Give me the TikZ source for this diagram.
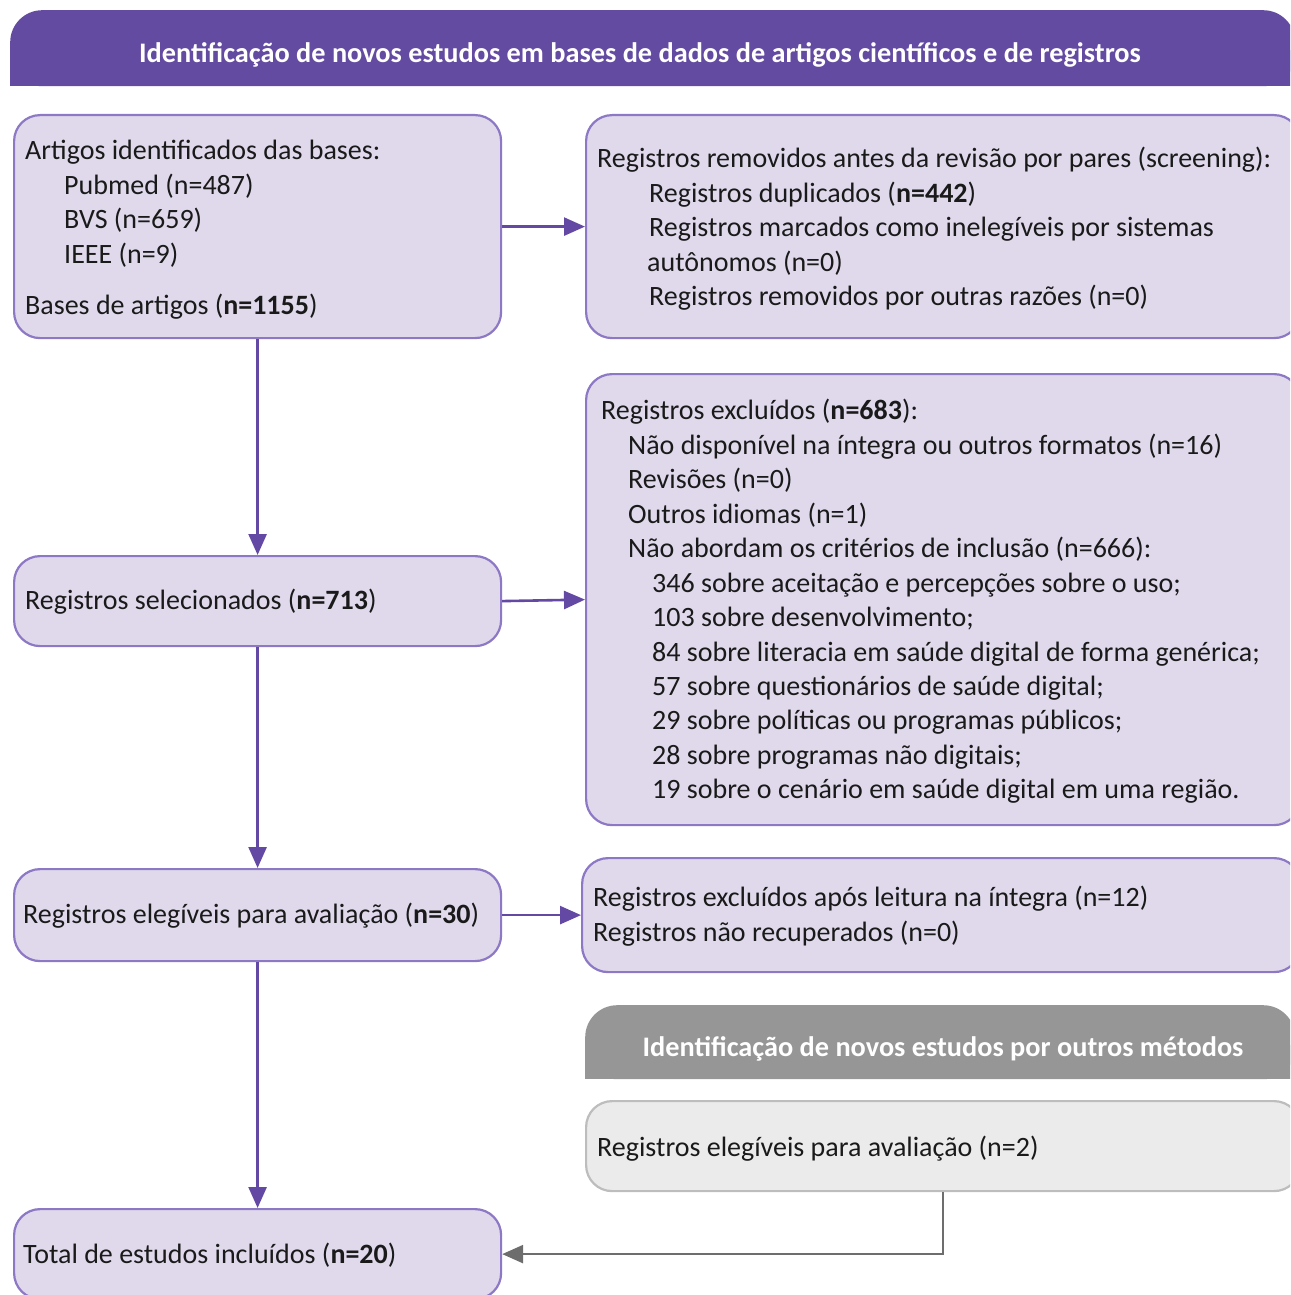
\documentclass[tikz,border=0pt]{standalone}
\usepackage{fontspec}
\setmainfont{Carlito}
\usetikzlibrary{arrows.meta}
\definecolor{hdrP}{HTML}{644BA2}
\definecolor{boxF}{HTML}{E0D9EC}
\definecolor{boxD}{HTML}{8C78C4}
\definecolor{arrP}{HTML}{6349A3}
\definecolor{hdrG}{HTML}{969696}
\definecolor{boxGF}{HTML}{EBEBEB}
\definecolor{boxGD}{HTML}{BDBDBD}
\definecolor{arrG}{HTML}{6D6D6D}
\definecolor{txt}{HTML}{1A1A1A}
\begin{document}
\begin{tikzpicture}[x=1pt,y=-1pt,
  pbox/.style={draw=boxD, fill=boxF, line width=2.2pt, rounded corners=26pt, inner sep=0pt, anchor=north west},
  gbox/.style={draw=boxGD, fill=boxGF, line width=2.2pt, rounded corners=26pt, inner sep=0pt, anchor=north west},
  hdr/.style={rounded corners=32pt, inner sep=0pt, anchor=north west},
  tx/.style={anchor=base west, inner sep=0pt, text=txt, font=\fontsize{28pt}{32pt}\selectfont},
  htx/.style={inner sep=0pt, text=white, font=\fontsize{28.3pt}{32pt}\selectfont\bfseries},
  parrow/.style={draw=arrP, line width=2.6pt, -{Triangle[length=21pt,width=18pt]}},
  garrow/.style={draw=arrG, line width=2.6pt, -{Triangle[length=21pt,width=18pt]}}]
\useasboundingbox (0,0) rectangle (1290,1295);
\clip (0,0) rectangle (1290,1295);

% purple header
\fill[hdrP] (10,50) rectangle (1295,86);
\node[hdr, fill=hdrP, minimum width=1285pt, minimum height=76pt] (H1) at (10,10) {};
\node[htx] (H1t) at (640,55) {Identificação de novos estudos em bases de dados de artigos científicos e de registros};

% boxes
\node[pbox, minimum width=487pt, minimum height=223pt] (A) at (13,114) {};
\node[pbox, minimum width=714pt, minimum height=223pt] (B) at (585,114) {};
\node[pbox, minimum width=714pt, minimum height=451pt] (C) at (585,373) {};
\node[pbox, minimum width=487pt, minimum height=90pt] (D) at (13,555) {};
\node[pbox, minimum width=487pt, minimum height=92pt] (E) at (13,868) {};
\node[pbox, minimum width=718pt, minimum height=114pt] (F) at (581,857) {};

% gray header
\fill[hdrG] (585,1045) rectangle (1295,1079);
\node[hdr, fill=hdrG, minimum width=710pt, minimum height=74pt] (H2) at (585,1005) {};
\node[htx] (H2t) at (943,1049) {Identificação de novos estudos por outros métodos};

\node[gbox, minimum width=714pt, minimum height=90pt] (G) at (585,1100) {};
\node[pbox, minimum width=487pt, minimum height=90pt] (H) at (13,1208) {};

% texts box A
\node[tx] (a1) at (25,159) {Artigos identificados das bases:};
\node[tx] (a2) at (64,194) {Pubmed (n=487)};
\node[tx] (a3) at (64,228) {BVS (n=659)};
\node[tx] (a4) at (64,263) {IEEE (n=9)};
\node[tx] (a5) at (25,314) {Bases de artigos (\textbf{n=1155})};

% texts box B
\node[tx] (b1) at (597,167) {Registros removidos antes da revisão por pares (screening):};
\node[tx] (b2) at (649,202) {Registros duplicados (\textbf{n=442})};
\node[tx] (b3) at (649,236) {Registros marcados como inelegíveis por sistemas};
\node[tx] (b4) at (647,271) {autônomos (n=0)};
\node[tx] (b5) at (649,305) {Registros removidos por outras razões (n=0)};

% texts box C
\node[tx] (c1) at (601,419) {Registros excluídos (\textbf{n=683}):};
\node[tx] (c2) at (628,454) {Não disponível na íntegra ou outros formatos (n=16)};
\node[tx] (c3) at (628,488) {Revisões (n=0)};
\node[tx] (c4) at (628,523) {Outros idiomas (n=1)};
\node[tx] (c5) at (628,557) {Não abordam os critérios de inclusão (n=666):};
\node[tx] (c6) at (652,592) {346 sobre aceitação e percepções sobre o uso;};
\node[tx] (c7) at (652,626) {103 sobre desenvolvimento;};
\node[tx] (c8) at (652,661) {84 sobre literacia em saúde digital de forma genérica;};
\node[tx] (c9) at (652,695) {57 sobre questionários de saúde digital;};
\node[tx] (c10) at (652,729) {29 sobre políticas ou programas públicos;};
\node[tx] (c11) at (652,764) {28 sobre programas não digitais;};
\node[tx] (c12) at (652,798) {19 sobre o cenário em saúde digital em uma região.};

% texts others
\node[tx] (d1) at (25,609) {Registros selecionados (\textbf{n=713})};
\node[tx] (e1) at (23,923) {Registros elegíveis para avaliação (\textbf{n=30})};
\node[tx] (f1) at (593,906) {Registros excluídos após leitura na íntegra (n=12)};
\node[tx] (f2) at (593,941) {Registros não recuperados (n=0)};
\node[tx] (g1) at (597,1156) {Registros elegíveis para avaliação (n=2)};
\node[tx] (h1) at (23,1263) {Total de estudos incluídos (\textbf{n=20})};

% arrows
\draw[parrow] (A.south) -- (D.north);
\draw[parrow] (D.south) -- (E.north);
\draw[parrow] (E.south) -- (H.north);
\draw[parrow] (A.east) -- (B.west);
\draw[parrow] (D.east) -- (C.west);
\draw[parrow] (E.east) -- (F.west);
\draw[garrow] (G.south) |- (H.east);
\end{tikzpicture}
\end{document}
